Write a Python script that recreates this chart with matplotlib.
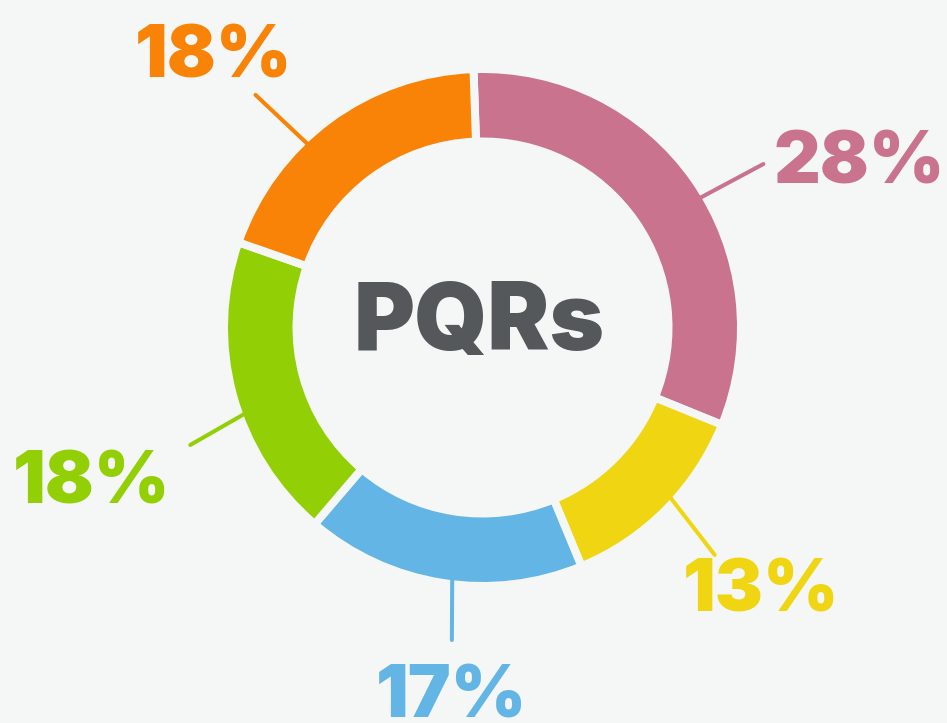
import matplotlib
matplotlib.use("Agg")
import matplotlib.pyplot as plt
import numpy as np

# ---- data ----
categories = ["A", "B", "C", "D", "E"]
shares = [31.7, 12.6, 17.5, 19.1, 19.1]          # slice sizes as drawn
labels = ["28%", "13%", "17%", "18%", "18%"]      # printed labels
colors = ["#C9738F", "#F0D512", "#62B5E4", "#93CF05", "#F88307"]
center_title = "PQRs"

BG = "#F5F7F7"
W, H = 947, 723
fig = plt.figure(figsize=(W / 100, H / 100), dpi=100, facecolor=BG)
ax = fig.add_axes([0, 0, 1, 1])
ax.set_facecolor(BG)

cx, cy = 482.5, H - 327.5
R = 258.5
ring_w = 72.5
gap_px = 8
lw = gap_px * 72 / 100

wedges, _ = ax.pie(shares, colors=colors, startangle=92, counterclock=False,
                   radius=R, center=(cx, cy),
                   wedgeprops=dict(width=ring_w, edgecolor=BG, linewidth=lw,
                                   joinstyle="miter"))

line_ang = [(30.8, 30.2), (-42.1, -44.4), (-96.9, -95.6), (-160.1, -158.1), (133.6, 134.3)]
line_r = [(252, 325), (252, 325), (252, 314), (252, 315), (252, 325)]
lab_off = [(376.5, 144.5), (278.5, -284.5), (-31.5, -389.5), (-391.5, -175.5), (-269.5, 249.5)]

font = dict(family=["Inter", "DejaVu Sans"], weight="black")
for i in range(len(shares)):
    a0, a1 = np.deg2rad(line_ang[i][0]), np.deg2rad(line_ang[i][1])
    r0, r1 = line_r[i]
    ax.plot([cx + r0 * np.cos(a0), cx + r1 * np.cos(a1)],
            [cy + r0 * np.sin(a0), cy + r1 * np.sin(a1)],
            color=colors[i], lw=2.9, solid_capstyle="round", zorder=1)
    ax.text(cx + lab_off[i][0], cy + lab_off[i][1], labels[i], color=colors[i],
            ha="center", va="baseline", fontsize=52, **font)

ax.text(479, H - 350, center_title, color="#54585A", ha="center", va="baseline",
        fontsize=67, **font)

ax.set_xlim(0, W)
ax.set_ylim(0, H)
ax.set_aspect("equal")
ax.axis("off")
fig.savefig("out.png", dpi=100, facecolor=BG)
